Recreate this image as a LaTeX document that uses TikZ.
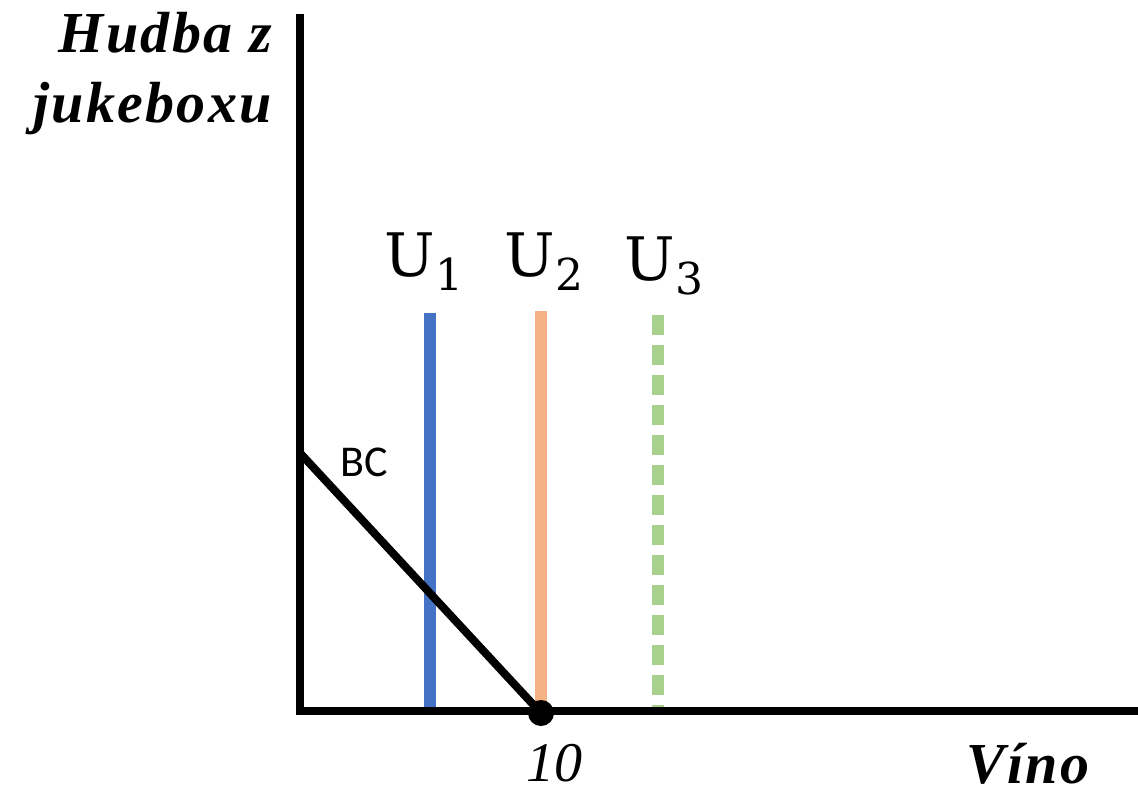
\documentclass[tikz,border=0pt]{standalone}
\usepackage{fontspec}
\setmainfont{Liberation Serif}
\newfontfamily\calib{Carlito}
\newfontfamily\cambr{DejaVu Serif}
\newfontfamily\widebf[LetterSpace=4]{Liberation Serif}
\usetikzlibrary{calc}
\begin{document}
\begin{tikzpicture}[x=1pt,y=-1pt,
  axis/.style={line width=8pt},
  ucurve/.style={line width=12pt},
  ulab/.style={font=\fontsize{60}{70}\selectfont\cambr, inner sep=0pt},
  ital/.style={font=\fontsize{58}{70}\selectfont\widebf\bfseries\itshape, inner sep=0pt}]
\useasboundingbox (0,0) rectangle (1138,798);
\coordinate (top) at (300,18);
\coordinate (orig) at (300,711);
\coordinate (right) at (1138,711);
\coordinate (bcA) at (300,453);
\coordinate (ten) at (541,713);
% utility curves
\coordinate (u1t) at (430,313); \coordinate (u1b) at (430,707);
\coordinate (u2t) at (541,311); \coordinate (u2b) at (541,707);
\coordinate (u3t) at (658,315); \coordinate (u3b) at (658,707);
\draw[ucurve, draw={rgb,255:red,68;green,114;blue,196}] (u1t) -- (u1b);
\draw[ucurve, draw={rgb,255:red,244;green,177;blue,131}] (u2t) -- (u2b);
\draw[ucurve, draw={rgb,255:red,169;green,209;blue,142}, dash pattern=on 20pt off 10pt] (u3t) -- (u3b);
% axes
\draw[axis, line cap=rect] (top) -- (orig) -- (right);
\draw[axis] (bcA) -- (ten);
\fill (ten) circle (13pt);
% labels
\node[ulab] (l1) at (424,262) {U\raisebox{-0.45ex}{\fontsize{44}{46}\selectfont 1}};
\node[ulab] (l2) at (544,262) {U\raisebox{-0.45ex}{\fontsize{44}{46}\selectfont 2}};
\node[ulab] (l3) at (664,266) {U\raisebox{-0.45ex}{\fontsize{44}{46}\selectfont 3}};
\node[font=\fontsize{44}{52}\selectfont\calib, inner sep=0pt] (bc) at (364,462) {BC};
\node[ital, anchor=north east, align=right] (ylab) at (272,12) {Hudba z\\jukeboxu};
\node[font=\fontsize{56}{66}\selectfont\itshape, inner sep=0pt] (t10) at (554,763) {10};
\node[ital, inner sep=0pt] (xlab) at (1028,764) {Víno};
\end{tikzpicture}
\end{document}
